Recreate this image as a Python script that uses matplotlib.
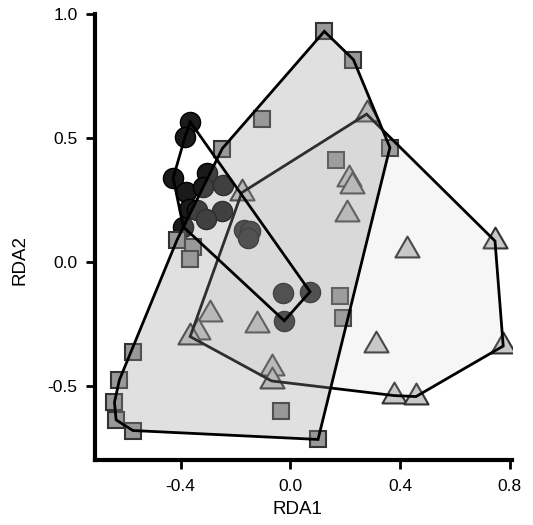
import numpy as np
import matplotlib
matplotlib.use("Agg")
import matplotlib.pyplot as plt
from matplotlib.path import Path
from matplotlib.patches import Polygon

plt.rcParams['font.family'] = ['Liberation Sans', 'DejaVu Sans']
plt.rcParams['axes.unicode_minus'] = False

# site scores (RDA1, RDA2) by group
sq_x = [0.124, 0.230, -0.104, -0.248, 0.363, 0.167, -0.413, -0.356, -0.365,
        -0.572, -0.623, -0.641, -0.635, -0.574, -0.035, 0.101, 0.181, 0.193]
sq_y = [0.930, 0.816, 0.578, 0.457, 0.461, 0.410, 0.088, 0.061, 0.010,
        -0.363, -0.477, -0.567, -0.638, -0.681, -0.601, -0.717, -0.138, -0.226]

ci_x = [-0.365, -0.384, -0.427, -0.305, -0.380, -0.317, -0.245, -0.369, -0.340,
        -0.250, -0.307, -0.390, -0.169, -0.147, -0.154, -0.028, 0.072, -0.022]
ci_y = [0.565, 0.503, 0.338, 0.357, 0.282, 0.303, 0.309, 0.213, 0.209,
        0.204, 0.172, 0.141, 0.128, 0.124, 0.094, -0.127, -0.121, -0.238]

tr_x = [0.278, 0.215, 0.224, 0.206, 0.424, 0.746, 0.312, 0.776, 0.379,
        0.458, -0.177, -0.293, -0.335, -0.365, -0.122, -0.068, -0.068]
tr_y = [0.596, 0.334, 0.305, 0.194, 0.047, 0.084, -0.337, -0.340, -0.540,
        -0.544, 0.279, -0.211, -0.282, -0.302, -0.255, -0.429, -0.481]

xticks = [-0.4, 0.0, 0.4, 0.8]
yticks = [-0.5, 0.0, 0.5, 1.0]


def hull(xs, ys):
    pts = sorted(set(zip(xs, ys)))

    def cross(o, a, b):
        return (a[0] - o[0]) * (b[1] - o[1]) - (a[1] - o[1]) * (b[0] - o[0])
    lower = []
    for p in pts:
        while len(lower) >= 2 and cross(lower[-2], lower[-1], p) <= 0:
            lower.pop()
        lower.append(p)
    upper = []
    for p in reversed(pts):
        while len(upper) >= 2 and cross(upper[-2], upper[-1], p) <= 0:
            upper.pop()
        upper.append(p)
    return np.array(lower[:-1] + upper[:-1])


# triangle centred on its centroid, like R's pch 24
tri = Path([(0, 1), (-0.866, -0.5), (0.866, -0.5), (0, 1)],
           [Path.MOVETO, Path.LINETO, Path.LINETO, Path.CLOSEPOLY])

fig = plt.figure(figsize=(5.33, 5.25), dpi=100)
ax = fig.add_axes([0.1782, 0.1238, 0.7824, 0.8495])

ax.plot(ci_x, ci_y, 'o', ms=14.5, mfc='#1a1a1a', mec='#000000', mew=1.0, zorder=2)
ax.plot(tr_x, tr_y, ls='none', marker=tri, ms=20, mfc='#c8c8c8', mec='#333333',
        mew=1.5, zorder=2)
ax.plot(sq_x, sq_y, 's', ms=12, mfc='#999999', mec='#333333', mew=1.5, zorder=2)

ax.add_patch(Polygon(hull(tr_x, tr_y), closed=True, fc=(0.784, 0.784, 0.784, 0.15),
                     ec='black', lw=2, joinstyle='miter', zorder=3))
ax.add_patch(Polygon(hull(sq_x, sq_y), closed=True, fc=(0.6, 0.6, 0.6, 0.3),
                     ec='black', lw=2, joinstyle='miter', zorder=4))
ax.add_patch(Polygon(hull(ci_x, ci_y), closed=True, fill=False,
                     ec='black', lw=2, joinstyle='miter', zorder=5))

ax.set_xlim(-0.712, 0.808)
ax.set_ylim(-0.80, 1.0)
ax.set_xticks(xticks)
ax.set_xticklabels(['%.1f' % v for v in xticks])
ax.set_yticks(yticks)
ax.set_yticklabels(['%.1f' % v for v in yticks])

for s in ['top', 'right']:
    ax.spines[s].set_visible(False)
for s in ['left', 'bottom']:
    ax.spines[s].set_linewidth(3)
    ax.spines[s].set_capstyle('projecting')
ax.tick_params(length=6.5, width=2, labelsize=12.5, color='black')
ax.tick_params(axis='y', pad=6)
ax.tick_params(axis='x', pad=7.5)

ax.set_xlabel('RDA1', fontsize=13.5, va='center')
ax.set_ylabel('RDA2', fontsize=13.5, va='center')
ax.xaxis.set_label_coords(0.485, -0.112)
ax.yaxis.set_label_coords(-0.18, 0.448)

fig.savefig('out.png', dpi=100)
